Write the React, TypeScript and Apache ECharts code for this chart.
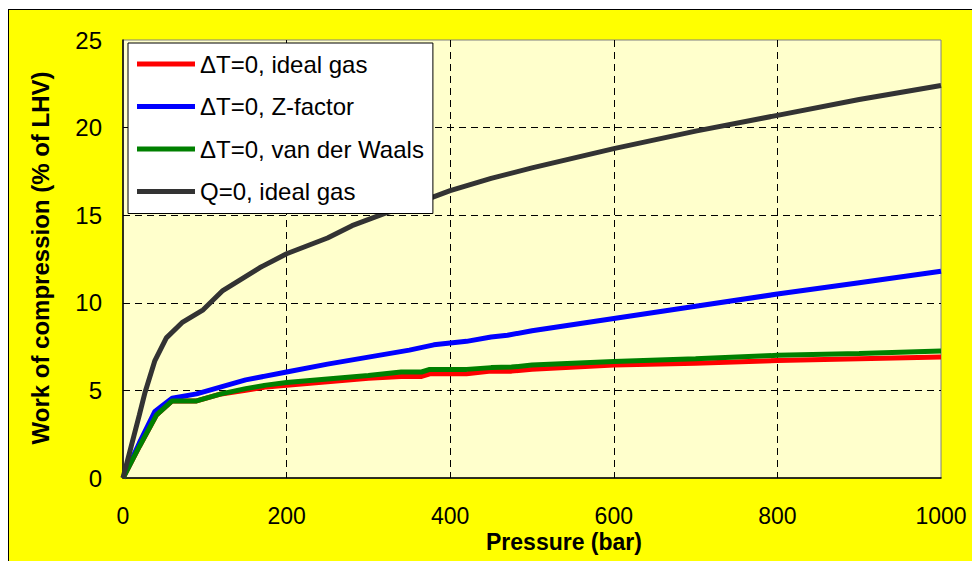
import React, { useEffect, useRef } from "react";
import * as echarts from "echarts";

const seriesNames = [
  "ΔT=0, ideal gas",
  "ΔT=0, Z-factor",
  "ΔT=0, van der Waals",
  "Q=0, ideal gas",
];
const seriesColors = ["#FF0000", "#0000FF", "#008000", "#333333"];

const idealP = [0, 20, 41, 60, 90, 120, 150, 175, 200, 250, 300, 340, 365, 375, 420, 450, 475, 500, 600, 700, 800, 900, 1000];
const idealW = [0, 1.8, 3.6, 4.4, 4.4, 4.8, 5.0, 5.2, 5.3, 5.5, 5.7, 5.8, 5.8, 5.95, 5.95, 6.1, 6.1, 6.2, 6.45, 6.55, 6.7, 6.8, 6.9];

const zP = [0, 20, 39, 50, 60, 90, 120, 150, 200, 250, 300, 350, 380, 420, 450, 470, 500, 600, 700, 800, 900, 1000];
const zW = [0, 2.0, 3.8, 4.2, 4.55, 4.8, 5.2, 5.6, 6.05, 6.5, 6.9, 7.3, 7.6, 7.8, 8.05, 8.15, 8.4, 9.1, 9.8, 10.5, 11.15, 11.8];

const vdwP = [0, 20, 41, 60, 90, 120, 150, 175, 200, 250, 300, 340, 365, 375, 420, 450, 475, 500, 600, 700, 800, 900, 1000];
const vdwW = [0, 1.8, 3.6, 4.4, 4.4, 4.8, 5.1, 5.3, 5.45, 5.65, 5.85, 6.05, 6.05, 6.2, 6.2, 6.3, 6.33, 6.45, 6.65, 6.8, 7.0, 7.1, 7.25];

const adiaP = [0, 10, 20, 27, 39, 53, 73, 98, 122, 167, 200, 250, 280, 320, 360, 400, 450, 500, 600, 700, 800, 900, 1000];
const adiaW = [0, 1.8, 3.6, 4.9, 6.7, 8.0, 8.9, 9.6, 10.7, 12.0, 12.8, 13.7, 14.4, 15.1, 15.7, 16.4, 17.1, 17.7, 18.8, 19.8, 20.7, 21.6, 22.4];

const xTicks = [0, 200, 400, 600, 800, 1000];
const yTicks = [0, 5, 10, 15, 20, 25];

const xs = [idealP, zP, vdwP, adiaP];
const ys = [idealW, zW, vdwW, adiaW];

const FONT = "'Liberation Sans', Arial, sans-serif";

export default function App() {
  const ref = useRef<HTMLDivElement>(null);
  useEffect(() => {
    if (!ref.current) return;
    const chart = echarts.init(ref.current, null, { renderer: "svg" });
    const option: any = {
      animation: false,
      backgroundColor: "#FFFF00",
      textStyle: { fontFamily: FONT },
      grid: {
        left: 114,
        top: 30,
        width: 818,
        height: 438,
        show: true,
        backgroundColor: "#FFFFCC",
        borderColor: "#808080",
        borderWidth: 1,
      },
      legend: {
        orient: "vertical",
        left: 119,
        top: 33,
        padding: [9, 9, 10, 9],
        backgroundColor: "#FFFFFF",
        borderColor: "#000000",
        borderWidth: 1,
        borderRadius: 0,
        icon: "rect",
        itemWidth: 58,
        itemHeight: 5,
        itemGap: 18.5,
        textStyle: { fontSize: 24, lineHeight: 24, color: "#000", fontFamily: FONT },
        data: seriesNames,
      },
      xAxis: {
        type: "value",
        min: 0,
        max: 1000,
        interval: 200,
        axisLine: { show: true, lineStyle: { color: "#000", width: 1.5 } },
        axisTick: { show: false },
        axisLabel: {
          fontSize: 23,
          lineHeight: 18,
          color: "#000",
          margin: 29,
          fontFamily: FONT,
          formatter: (v: number) => (xTicks.includes(v) ? String(v) : ""),
        },
        splitLine: {
          show: true,
          showMinLine: false,
          showMaxLine: false,
          lineStyle: { color: "#000", type: [7, 5], width: 1 },
        },
      },
      yAxis: {
        type: "value",
        min: 0,
        max: 25,
        interval: 5,
        axisLine: { show: true, lineStyle: { color: "#000", width: 1.5 } },
        axisTick: { show: false },
        axisLabel: {
          fontSize: 24,
          color: "#000",
          margin: 21,
          fontFamily: FONT,
          formatter: (v: number) => (yTicks.includes(v) ? String(v) : ""),
        },
        splitLine: {
          show: true,
          showMinLine: false,
          showMaxLine: false,
          lineStyle: { color: "#000", type: [7, 5], width: 1 },
        },
      },
      graphic: [
        {
          type: "text",
          x: 31,
          y: 248,
          rotation: Math.PI / 2,
          style: {
            text: "Work of compression (% of LHV)",
            font: `bold 24px ${FONT}`,
            fill: "#000",
            align: "center",
            verticalAlign: "middle",
          },
        },
        {
          type: "text",
          x: 555,
          y: 532,
          style: {
            text: "Pressure (bar)",
            font: `bold 23px ${FONT}`,
            lineHeight: 18,
            fill: "#000",
            align: "center",
            verticalAlign: "middle",
          },
        },
      ],
      series: seriesNames.map((name, i) => ({
        name,
        type: "line",
        showSymbol: false,
        symbol: "none",
        color: seriesColors[i],
        lineStyle: { color: seriesColors[i], width: 5 },
        data: xs[i].map((p, j) => [p, ys[i][j]]),
      })),
    };
    chart.setOption(option);
    return () => chart.dispose();
  }, []);
  return (
    <div
      style={{
        position: "fixed",
        left: 8,
        top: 9,
        width: 964,
        height: 552,
        boxSizing: "border-box",
        borderTop: "1px solid #000",
        borderLeft: "1px solid #000",
        background: "#FFFF00",
      }}
    >
      <div ref={ref} style={{ width: 963, height: 551 }} />
    </div>
  );
}
